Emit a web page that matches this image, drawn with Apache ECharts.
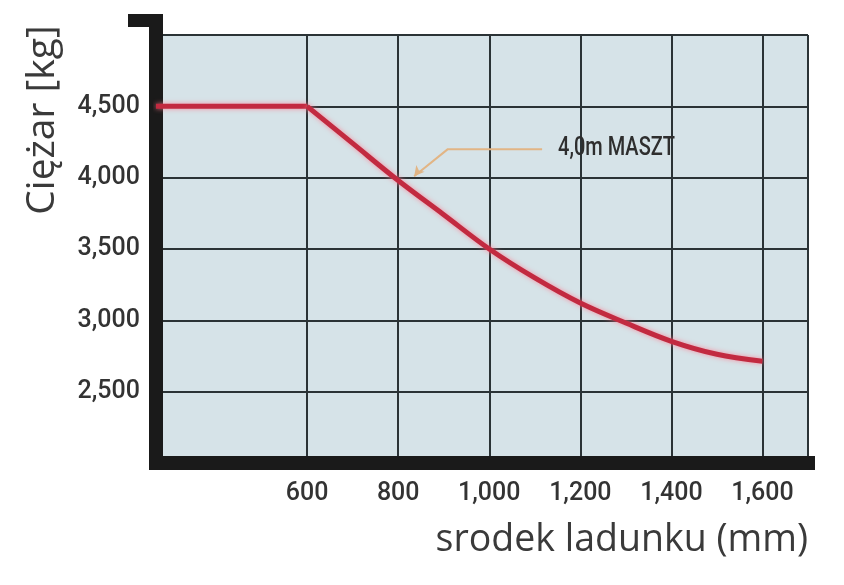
<!DOCTYPE html>
<html>
<head>
<meta charset="utf-8">
<script src="https://cdn.jsdelivr.net/npm/echarts@6/dist/echarts.min.js"></script>
<style>
  html, body { margin: 0; padding: 0; background: #fff; }
  #chart { width: 844px; height: 585px; }
</style>
</head>
<body>
<div id="chart"></div>
<script>
// odczyt z wykresu udźwigu
const xTicks = [600, 800, 1000, 1200, 1400, 1600]
const yTicks = [2500, 3000, 3500, 4000, 4500]
// odcinek płaski
const flatCentre = [268, 600]
const flatCapacity = [4500, 4500]
// odcinek opadający
const loadCentre = [600, 700, 800, 900, 1000, 1100, 1200, 1300, 1400, 1500, 1600]
const capacity = [4500, 4240, 3980, 3740, 3500, 3297, 3121, 2981, 2853, 2762, 2713]
const leaderPts = [[835, 4010], [909, 4200], [1116, 4200]]
const mastLabel = '4,0m MASZT'

const X_MIN = 268
const X_MAX = 1700
const Y_MIN = 2000
const Y_MAX = 5000

const labelFont = "'Roboto', 'Liberation Sans', sans-serif"
const nameFont = "'Open Sans', 'DejaVu Sans', sans-serif"

const chart = echarts.init(document.getElementById('chart'))

const curveStyle = {
  color: '#c22a40',
  width: 5,
  join: 'round',
  shadowColor: 'rgba(255, 120, 140, 0.8)',
  shadowBlur: 5,
}

const option = {
  animation: false,
  grid: {
    left: 156,
    right: 36,
    top: 35,
    bottom: 122,
    show: true,
    backgroundColor: '#d6e3e8',
    borderWidth: 0,
  },
  xAxis: {
    type: 'value',
    min: X_MIN,
    max: X_MAX,
    axisLine: {
      show: true,
      lineStyle: { color: '#1a1a1a', width: 14, cap: 'square' },
    },
    axisTick: { show: false, customValues: xTicks.concat([X_MAX]) },
    axisLabel: {
      customValues: xTicks,
      margin: 18,
      color: '#333',
      fontSize: 25,
      fontWeight: 500,
      fontFamily: labelFont,
      formatter: (v) => v.toLocaleString('en-US'),
    },
    splitLine: {
      show: true,
      lineStyle: { color: '#2b3336', width: 2 },
    },
  },
  yAxis: {
    type: 'value',
    min: Y_MIN,
    max: Y_MAX,
    interval: 500,
    axisLine: {
      show: true,
      lineStyle: { color: '#1a1a1a', width: 14, cap: 'square' },
    },
    axisTick: { show: false },
    axisLabel: {
      margin: 16,
      color: '#333',
      fontSize: 25,
      fontWeight: 500,
      fontFamily: labelFont,
      formatter: (v) => (yTicks.indexOf(v) >= 0 ? v.toLocaleString('en-US') : ''),
    },
    splitLine: {
      show: true,
      lineStyle: { color: '#2b3336', width: 2 },
    },
  },
  series: [
    {
      type: 'line',
      name: 'plaski',
      data: flatCentre.map((x, i) => [x, flatCapacity[i]]),
      symbol: 'none',
      lineStyle: curveStyle,
      z: 5,
    },
    {
      type: 'line',
      name: 'udzwig',
      data: loadCentre.map((x, i) => [x, capacity[i]]),
      smooth: 0.35,
      symbol: 'none',
      lineStyle: curveStyle,
      z: 5,
    },
    {
      type: 'line',
      name: 'maszt',
      // strzałka tylko na pierwszym punkcie
      data: leaderPts.map((p, i) =>
        i === 0
          ? { value: p, symbol: 'arrow', symbolSize: [8, 10], symbolRotate: 141 }
          : { value: p, symbol: 'none' }
      ),
      showSymbol: true,
      itemStyle: { color: '#e2b585' },
      lineStyle: { color: '#e2b585', width: 2 },
      z: 6,
    },
  ],
}

chart.setOption(option)

// haczyk na górze osi Y, opis masztu i nazwy osi
const topLeft = chart.convertToPixel({ gridIndex: 0 }, [X_MIN, Y_MAX])
const rightEnd = chart.convertToPixel({ gridIndex: 0 }, [X_MAX, Y_MIN])
const labelAt = chart.convertToPixel({ gridIndex: 0 }, leaderPts[leaderPts.length - 1])
chart.setOption({
  graphic: [
    {
      type: 'rect',
      shape: { x: topLeft[0] - 28, y: topLeft[1] - 21, width: 35, height: 13 },
      style: { fill: '#1a1a1a' },
    },
    {
      type: 'rect',
      shape: { x: topLeft[0] - 7, y: topLeft[1] - 21, width: 14, height: 21 },
      style: { fill: '#1a1a1a' },
    },
    {
      type: 'text',
      x: labelAt[0] + 16,
      y: labelAt[1],
      scaleX: 0.8,
      z: 10,
      style: {
        text: mastLabel,
        fill: '#2e2e2e',
        font: '500 25px ' + labelFont,
        align: 'left',
        verticalAlign: 'middle',
      },
    },
    {
      type: 'text',
      x: 43,
      y: 120,
      rotation: Math.PI / 2,
      style: {
        text: 'Ciężar [kg]',
        fill: '#3a3a3a',
        font: '39px ' + nameFont,
        align: 'center',
        verticalAlign: 'middle',
      },
    },
    {
      type: 'text',
      x: rightEnd[0],
      y: 540,
      style: {
        text: 'srodek ladunku (mm)',
        fill: '#3a3a3a',
        font: '37.5px ' + nameFont,
        align: 'right',
        verticalAlign: 'middle',
      },
    },
  ],
})
</script>
</body>
</html>
